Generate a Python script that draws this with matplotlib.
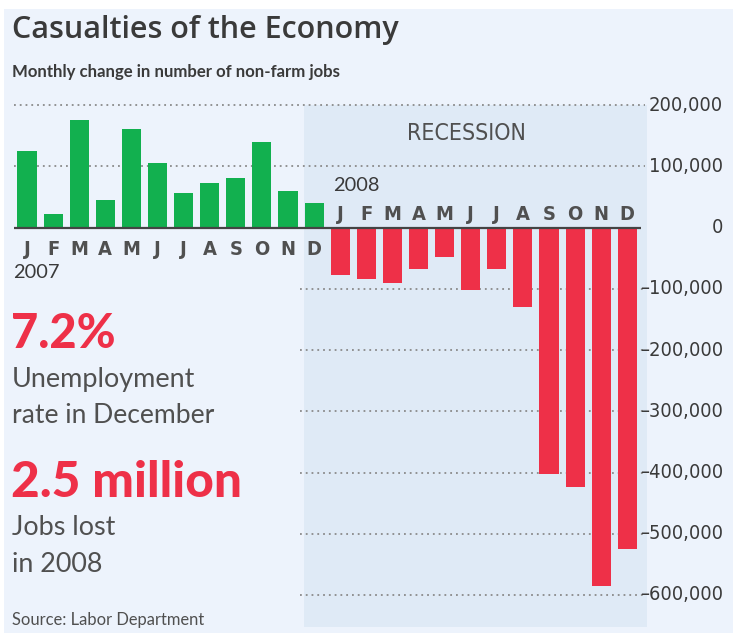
import matplotlib
matplotlib.use("Agg")
import matplotlib.pyplot as plt
from matplotlib.patches import Rectangle

# Monthly change in non-farm payrolls
months = list("JFMAMJJASOND")
jobs_2007 = [126000, 23000, 176000, 46000, 161000, 106000,
             56000, 73000, 81000, 140000, 60000, 41000]
jobs_2008 = [-77000, -84000, -90000, -68000, -48000, -101000,
             -68000, -129000, -403000, -423000, -585000, -525000]
tick_values = [200000, 100000, 0, -100000, -200000, -300000,
               -400000, -500000, -600000]

W, H = 733, 633
BG = "#edf3fc"
SHADE = "#dfeaf6"
GREEN = "#12b04f"
RED = "#ee3048"
INK = "#3a3a3a"
GREY = "#505050"

NARROW = dict(family="DejaVu Sans", fontstretch="condensed")
WIDE = "Lato"


def pt(px):
    return px * 0.72


def put(x, y, s, **kw):
    fig.text(x / W, 1 - y / H, s, **kw)


fig = plt.figure(figsize=(W / 100, H / 100), dpi=100)
fig.patch.set_facecolor("white")
fig.patches.append(Rectangle((4 / W, 0), 1, 1 - 9 / H, transform=fig.transFigure,
                             facecolor=BG, edgecolor="none", zorder=-10))

# axes covers the whole figure; limits map data onto the pixel grid
step = 26.1
zero_px = 227.7
per100k = 61.2
ax = fig.add_axes([0, 0, 1, 1])
ax.set_xlim(-27 / step, (W - 27) / step)
ax.set_ylim(-(H - zero_px) / per100k * 100000, zero_px / per100k * 100000)
ax.axis("off")
ax.patch.set_alpha(0)


def xd(px):
    return (px - 27) / step


def yd(px):
    return (zero_px - px) / per100k * 100000


# recession shading
ax.add_patch(Rectangle((xd(304), yd(627)), xd(647) - xd(304), yd(105) - yd(627),
                       facecolor=SHADE, edgecolor="none", zorder=0))
ax.text(xd(466), yd(140), "RECESSION", ha="center", va="baseline",
        fontsize=pt(23), color=GREY, zorder=3, **NARROW)

# gridlines
for v in tick_values:
    if v == 0:
        continue
    left = xd(14) if v > 0 else xd(300)
    ax.hlines(v, left, xd(645), colors="#8a8a8a", linewidth=1.3,
              linestyles=(0, (1, 2.2)), zorder=1)

x07 = list(range(12))
x08 = list(range(12, 24))
ax.bar(x07, jobs_2007, width=0.73, color=GREEN, zorder=2)
ax.bar(x08, jobs_2008, width=0.73, color=RED, zorder=2)
ax.hlines(0, xd(14), xd(641), colors="#444444", linewidth=1.6, zorder=3)

# month letters: 2007 under the axis, 2008 above it
for i, m in enumerate(months):
    ax.text(x07[i], yd(255), m, ha="center", va="baseline", fontsize=pt(20),
            color=GREY, fontweight="bold", **NARROW)
    ax.text(x08[i], yd(220), m, ha="center", va="baseline", fontsize=pt(20),
            color=GREY, fontweight="bold", **NARROW)
ax.text(xd(13), yd(278), "2007", ha="left", va="baseline", fontsize=pt(20),
        color=INK, family=WIDE)
ax.text(xd(333), yd(191), "2008", ha="left", va="baseline", fontsize=pt(20),
        color=INK, family=WIDE)

# value axis on the right
for v in tick_values:
    label = f"{v:,}".replace("-", "\u2013")
    ax.text(xd(723), v, label, ha="right", va="center", fontsize=pt(20),
            color=INK, **NARROW)

# headline texts
put(12, 38, "Casualties of the Economy", fontsize=pt(30.5), color=INK,
    family="Open Sans", fontweight="semibold")
put(12, 77, "Monthly change in number of non-farm jobs", fontsize=pt(16.8),
    color=INK, family=WIDE, fontweight="bold")

put(11, 348, "7.2%", fontsize=pt(47), color=RED, family=WIDE, fontweight="black")
put(12, 387, "Unemployment", fontsize=pt(27), color=GREY, family=WIDE)
put(12, 423, "rate in December", fontsize=pt(26.5), color=GREY, family=WIDE)
put(11, 497, "2.5 million", fontsize=pt(49.5), color=RED, family=WIDE, fontweight="black")
put(12, 535, "Jobs lost", fontsize=pt(27), color=GREY, family=WIDE)
put(12, 572, "in 2008", fontsize=pt(27), color=GREY, family=WIDE)
put(12, 625, "Source: Labor Department", fontsize=pt(16.5), color=GREY,
    family=WIDE)

fig.savefig("out.png", dpi=100, facecolor=fig.get_facecolor())
